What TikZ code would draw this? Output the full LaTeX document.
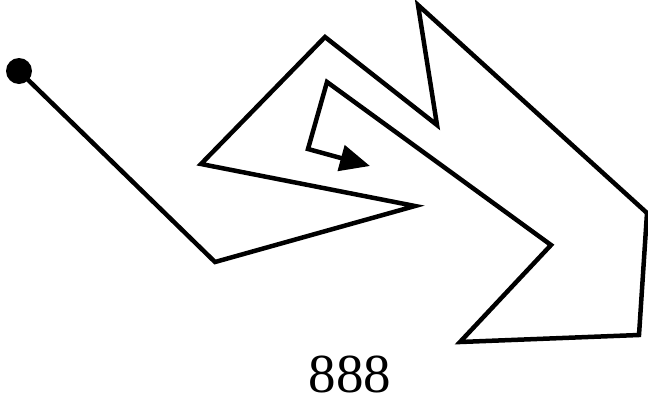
\documentclass[tikz,border=0pt]{standalone}
\usepackage{fontspec}
\setmainfont{Liberation Serif}
\usetikzlibrary{arrows.meta,positioning}

\begin{document}
\begin{tikzpicture}[x=1pt,y=-1pt,line width=4.5pt,line join=miter,>={Triangle[length=30pt,width=26pt]}]
  \useasboundingbox (0,0) rectangle (648,405);
  \node[circle,fill,inner sep=0pt,minimum size=26pt] (S) at (19,71) {};
  \coordinate (P1) at (215,262);
  \coordinate (P2) at (415,206);
  \coordinate (P3) at (201,164);
  \coordinate (P4) at (325,37);
  \coordinate (P5) at (437,125);
  \coordinate (P6) at (418,5);
  \coordinate (P7) at (647,213);
  \coordinate (P8) at (639,335);
  \coordinate (P9) at (460,342);
  \coordinate (P10) at (551,245);
  \coordinate (P11) at (327,82);
  \coordinate (P12) at (308,149);
  \coordinate (E) at (370,166);

  \draw[->] (S.center) -- (P1) -- (P2) -- (P3) -- (P4) -- (P5) -- (P6) -- (P7)
    -- (P8) -- (P9) -- (P10) -- (P11) -- (P12) -- (E);

  \node[font=\fontsize{55}{55}\selectfont,anchor=base] (L) at (350,392) {888};
\end{tikzpicture}
\end{document}
